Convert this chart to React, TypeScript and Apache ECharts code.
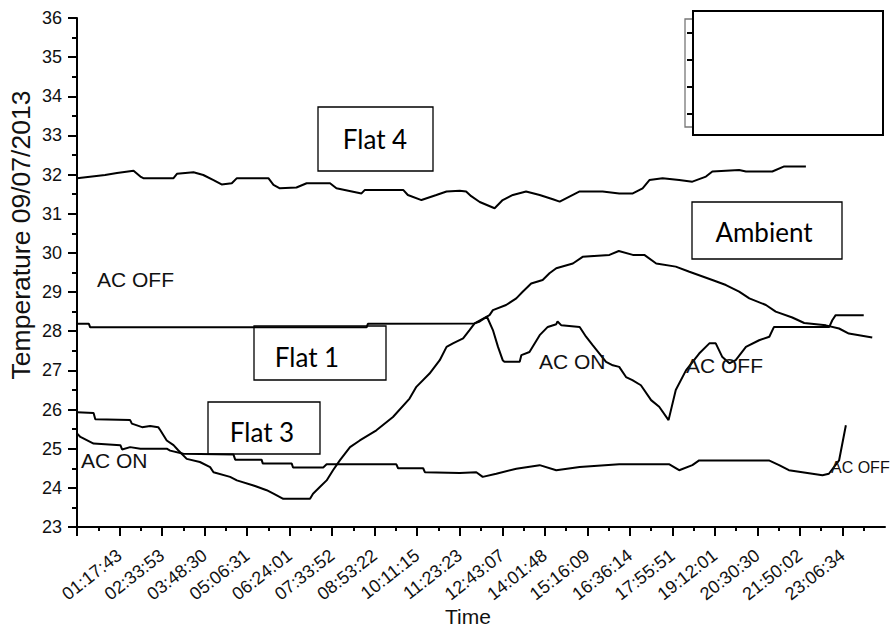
import React, { useEffect, useRef } from "react";
import * as echarts from "echarts";

// x values are in "label tick" units: 0 = axis origin, 1 = first time label, ...
const timeLabels = [
  "01:17:43", "02:33:53", "03:48:30", "05:06:31", "06:24:01", "07:33:52",
  "08:53:22", "10:11:15", "11:23:23", "12:43:07", "14:01:48", "15:16:09",
  "16:36:14", "17:55:51", "19:12:01", "20:30:30", "21:50:02", "23:06:34",
];

const yTicks = [23, 24, 25, 26, 27, 28, 29, 30, 31, 32, 33, 34, 35, 36];

const flat4: [number, number][] = [
  [0, 31.91], [0.66, 31.99], [0.94, 32.04], [1.33, 32.1], [1.49, 31.95], [1.56, 31.91],
  [2.27, 31.91], [2.35, 32.02], [2.74, 32.06], [2.97, 31.99], [3.21, 31.86], [3.4, 31.75],
  [3.64, 31.78], [3.76, 31.91], [4.5, 31.91], [4.62, 31.74], [4.77, 31.65], [5.16, 31.67],
  [5.4, 31.78], [5.95, 31.78], [6.1, 31.65], [6.38, 31.59], [6.69, 31.52], [6.77, 31.61],
  [7.67, 31.61], [7.78, 31.48], [8.1, 31.35], [8.45, 31.48], [8.69, 31.57], [9.0, 31.59],
  [9.15, 31.57], [9.27, 31.45], [9.47, 31.3], [9.82, 31.14], [10.01, 31.35], [10.25, 31.48],
  [10.56, 31.57], [10.88, 31.48], [11.19, 31.37], [11.35, 31.31], [11.58, 31.44], [11.82, 31.57],
  [12.36, 31.57], [12.75, 31.52], [13.07, 31.52], [13.3, 31.65], [13.46, 31.86], [13.77, 31.91],
  [14.16, 31.86], [14.47, 31.82], [14.79, 31.95], [14.94, 32.08], [15.57, 32.12], [15.73, 32.08],
  [16.35, 32.08], [16.63, 32.21], [17.14, 32.21],
];

const ambient: [number, number][] = [
  [0, 25.93], [0.39, 25.91], [0.43, 25.75], [1.25, 25.73], [1.29, 25.64], [1.53, 25.55],
  [1.72, 25.58], [1.91, 25.55], [1.96, 25.47], [2.11, 25.21], [2.27, 25.09], [2.38, 24.96],
  [2.58, 24.74], [2.89, 24.66], [3.13, 24.53], [3.21, 24.4], [3.6, 24.28], [3.76, 24.19],
  [4.15, 24.06], [4.46, 23.94], [4.62, 23.85], [4.85, 23.72], [5.48, 23.72], [5.55, 23.85],
  [5.71, 24.02], [5.87, 24.19], [6.02, 24.45], [6.18, 24.7], [6.42, 25.04], [6.65, 25.21],
  [7.04, 25.47], [7.43, 25.81], [7.82, 26.28], [7.98, 26.58], [8.29, 26.92], [8.53, 27.26],
  [8.69, 27.6], [8.84, 27.69], [9.08, 27.82], [9.23, 28.03], [9.35, 28.2], [9.7, 28.41],
  [9.78, 28.54], [10.09, 28.67], [10.33, 28.84], [10.48, 29.01], [10.68, 29.22], [10.95, 29.31],
  [11.11, 29.48], [11.27, 29.61], [11.66, 29.73], [11.89, 29.9], [12.52, 29.95], [12.74, 30.05],
  [13.07, 29.95], [13.34, 29.95], [13.62, 29.73], [14.08, 29.65], [14.4, 29.52], [14.94, 29.31],
  [15.26, 29.18], [15.57, 29.01], [15.81, 28.84], [16.2, 28.67], [16.43, 28.5], [16.82, 28.35],
  [17.1, 28.21], [17.61, 28.15], [17.92, 28.07], [18.15, 27.94], [18.7, 27.84],
];

const flat1: [number, number][] = [
  [0, 28.19], [0.28, 28.19], [0.31, 28.1], [6.81, 28.1], [6.84, 28.19], [9.35, 28.2],
  [9.47, 28.25], [9.64, 28.37], [9.78, 28.03], [9.9, 27.6], [10.01, 27.26], [10.05, 27.22],
  [10.41, 27.22], [10.45, 27.39], [10.64, 27.47], [10.88, 27.9], [11.07, 28.11], [11.27, 28.18],
  [11.3, 28.25], [11.39, 28.15], [11.82, 28.11], [11.97, 27.86], [12.13, 27.64], [12.44, 27.22],
  [12.6, 27.13], [12.75, 27.09], [12.91, 26.83], [13.06, 26.75], [13.26, 26.62], [13.5, 26.24],
  [13.69, 26.07], [13.91, 25.73], [14.08, 26.5], [14.32, 27.0], [14.63, 27.43], [14.87, 27.69],
  [15.02, 27.69], [15.17, 27.35], [15.34, 27.18], [15.49, 27.26], [15.73, 27.6], [16.04, 27.77],
  [16.28, 27.86], [16.39, 28.11], [17.69, 28.11], [17.76, 28.28], [17.84, 28.41], [18.5, 28.41],
];

const flat3: [number, number][] = [
  [0, 25.39], [0.08, 25.3], [0.39, 25.13], [1.02, 25.09], [1.06, 24.98], [1.25, 25.04],
  [1.49, 25.0], [2.11, 25.0], [2.19, 24.95], [2.5, 24.87], [3.68, 24.85], [3.72, 24.72],
  [4.34, 24.72], [4.37, 24.62], [5.05, 24.62], [5.08, 24.52], [5.79, 24.52], [5.87, 24.6],
  [7.51, 24.6], [7.55, 24.5], [8.14, 24.5], [8.18, 24.4], [9.0, 24.38], [9.39, 24.4],
  [9.54, 24.28], [9.86, 24.36], [10.33, 24.49], [10.88, 24.58], [11.27, 24.45], [11.82, 24.53],
  [12.75, 24.6], [13.93, 24.6], [14.16, 24.45], [14.47, 24.58], [14.63, 24.7], [16.27, 24.7],
  [16.51, 24.58], [16.74, 24.45], [17.53, 24.32], [17.68, 24.36], [17.92, 24.7], [18.08, 25.6],
];

const seriesList = [
  { name: "Flat 4", data: flat4 },
  { name: "Ambient", data: ambient },
  { name: "Flat 1", data: flat1 },
  { name: "Flat 3", data: flat3 },
];

const ARIAL = "'Liberation Sans', Arial, sans-serif";
const CAL = "Lato, 'Open Sans', sans-serif";

export default function App() {
  const ref = useRef<HTMLDivElement>(null);
  useEffect(() => {
    if (!ref.current) return;
    const chart = echarts.init(ref.current, undefined, { renderer: "svg" });
    const boxText = (text: string, x: number, y: number) => ({
      type: "text",
      style: { text, x, y, font: `26px ${CAL}`, fill: "#000", textAlign: "center", textVerticalAlign: "middle" },
      z: 20,
    });
    const acText = (text: string, x: number, y: number, size = 21) => ({
      type: "text",
      style: { text, x, y, font: `${size}px ${ARIAL}`, fill: "#111", textAlign: "left", textVerticalAlign: "middle" },
      z: 20,
    });
    const box = (x: number, y: number, w: number, h: number) => ({
      type: "rect",
      shape: { x, y, width: w, height: h },
      style: { fill: "none", stroke: "#000", lineWidth: 1.3 },
      z: 20,
    });
    chart.setOption({
      animation: false,
      backgroundColor: "#fff",
      grid: { left: 77, right: 7, top: 18, bottom: 103, containLabel: false, outerBoundsMode: "none" },
      xAxis: {
        type: "value",
        min: 0,
        max: 19,
        interval: 1,
        splitLine: { show: false },
        axisLine: { onZero: false, lineStyle: { color: "#000", width: 2 } },
        axisTick: { length: 9, lineStyle: { color: "#000", width: 2 }, customValues: [0, ...timeLabels.map((_, i) => i + 1)] },
        minorTick: { show: true, splitNumber: 2, length: 4, lineStyle: { color: "#000", width: 2 } },
        axisLabel: {
          rotate: 38,
          margin: 26,
          fontSize: 18,
          fontFamily: ARIAL,
          color: "#111",
          customValues: timeLabels.map((_, i) => i + 1),
          formatter: (v: number) => {
            const i = Math.round(v);
            if (Math.abs(v - i) > 1e-6 || i < 1 || i > timeLabels.length) return "";
            return timeLabels[i - 1];
          },
        },
      },
      yAxis: {
        type: "value",
        min: yTicks[0],
        max: yTicks[yTicks.length - 1],
        interval: 1,
        splitLine: { show: false },
        axisLine: { show: true, onZero: false, lineStyle: { color: "#000", width: 2 } },
        axisTick: { show: true, length: 9, lineStyle: { color: "#000", width: 2 } },
        minorTick: { show: true, splitNumber: 2, length: 5, lineStyle: { color: "#000", width: 2 } },
        axisLabel: { margin: 15, fontSize: 18, fontFamily: ARIAL, color: "#111" },
      },
      series: seriesList.map((s) => ({
        type: "line",
        name: s.name,
        data: s.data,
        showSymbol: false,
        symbol: "none",
        lineStyle: { color: "#000", width: 2 },
        emphasis: { disabled: true },
      })),
      graphic: [
        {
          type: "polyline",
          shape: { points: [[692, 19], [685, 19], [685, 127], [692, 127]] },
          style: { stroke: "#777", lineWidth: 1.3, fill: "none" },
          z: 19,
        },
        ...[33, 60, 87, 114].map((y) => ({
          type: "line",
          shape: { x1: 687, y1: y, x2: 693, y2: y },
          style: { stroke: "#000", lineWidth: 2 },
          z: 19,
        })),
        {
          type: "rect",
          shape: { x: 693, y: 11, width: 190, height: 124 },
          style: { fill: "#fff", stroke: "#000", lineWidth: 2 },
          z: 20,
        },
        box(318, 107, 115, 64),
        boxText("Flat 4", 375, 139),
        box(692, 202, 150, 57),
        boxText("Ambient", 764, 232),
        box(254, 326, 132, 54),
        boxText("Flat 1", 307, 357),
        box(208, 402, 112, 52),
        boxText("Flat 3", 262, 432),
        acText("AC OFF", 97, 279),
        acText("AC ON", 81, 460),
        acText("AC ON", 539, 361),
        acText("AC OFF", 686, 365),
        acText("AC OFF", 831, 467, 16),
        {
          type: "text",
          style: { text: "Time", x: 468, y: 616, font: `21px ${ARIAL}`, fill: "#111", textAlign: "center", textVerticalAlign: "middle" },
          z: 20,
        },
        {
          type: "text",
          rotation: Math.PI / 2,
          x: 21,
          y: 235,
          style: { text: "Temperature 09/07/2013", x: 0, y: 0, font: `26.5px ${ARIAL}`, fill: "#111", textAlign: "center", textVerticalAlign: "middle" },
          z: 20,
        },
      ],
    });
    return () => chart.dispose();
  }, []);
  return <div ref={ref} style={{ position: "absolute", left: 0, top: 0, width: 892, height: 630 }} />;
}
